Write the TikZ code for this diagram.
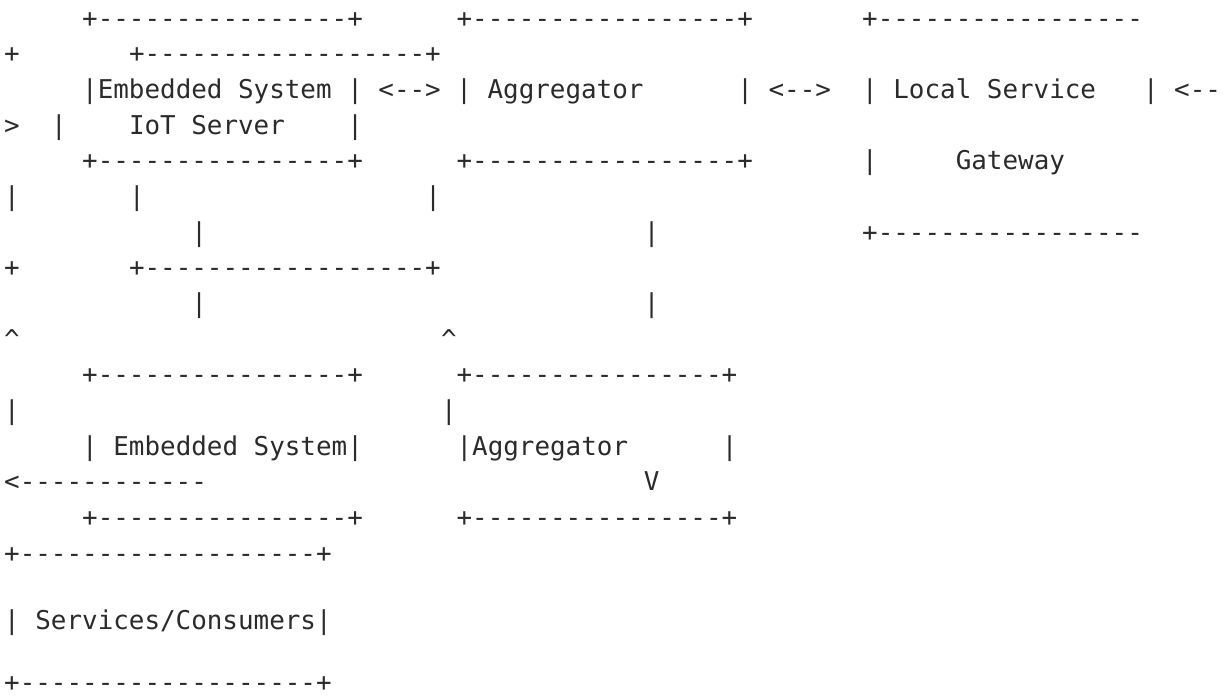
\documentclass[tikz,border=0pt]{standalone}
\usepackage{fontspec}
\setmonofont{DejaVu Sans Mono}
\definecolor{ink}{HTML}{2B2B2B}

\begin{document}
\begin{tikzpicture}[x=1pt,y=-1pt,
      asc/.style={
         font=\ttfamily\fontsize{25.9}{35.4}\selectfont,
         text=ink,
         anchor=west,
         inner sep=0pt,
         text height=15.5pt,
         text depth=0pt}
      ]
      \fill[white] (0,0) rectangle (1223,698);
      \useasboundingbox (0,0) rectangle (1223,698);

    \foreach \nm/\c/\r/\txt in {% name/column/line/text
      r1a/5/1/+----------------+,
      r1b/29/1/+-----------------+,
      r1c/55/1/+-----------------,
      r2a/0/2/+,
      r2b/8/2/+------------------+,
      r3a/5/3/|Embedded System | <--> | Aggregator,
      r3b/47/3/| <-->,
      r3c/55/3/| Local Service,
      r3d/73/3/| <--,
      r4a/0/4/>,
      r4b/3/4/|,
      r4c/8/4/IoT Server,
      r4d/22/4/|,
      r5a/5/5/+----------------+,
      r5b/29/5/+-----------------+,
      r5c/55/5/|,
      r5d/61/5/Gateway,
      r6a/0/6/|,
      r6b/8/6/|,
      r6c/27/6/|,
      r7a/12/7/|,
      r7b/41/7/|,
      r7c/55/7/+-----------------,
      r8a/0/8/+,
      r8b/8/8/+------------------+,
      r9a/12/9/|,
      r9b/41/9/|,
      r10a/0/10/\textasciicircum,
      r10b/28/10/\textasciicircum,
      r11a/5/11/+----------------+,
      r11b/29/11/+----------------+,
      r12a/0/12/|,
      r12b/28/12/|,
      r13a/5/13/| Embedded System|,
      r13b/29/13/|Aggregator,
      r13c/46/13/|,
      r14a/0/14/<------------,
      r14b/41/14/V,
      r15a/5/15/+----------------+,
      r15b/29/15/+----------------+,
      r16/0/16/+-------------------+,
      r18/0/17.89/{| Services/Consumers|},
      r20/0/19.63/+-------------------+}
       \node[asc] (\nm) at ({4+15.6*\c},{19.3+35.67*(\r-1)}) {\txt};

\end{tikzpicture}
\end{document}
